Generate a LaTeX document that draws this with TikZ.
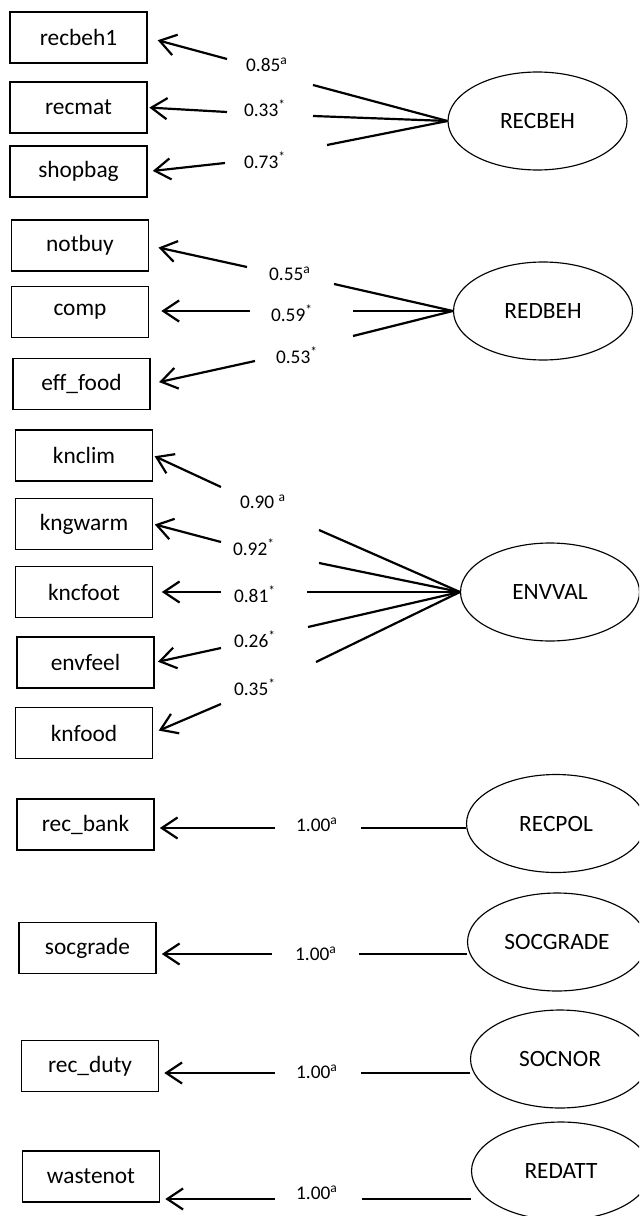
\documentclass[tikz,border=0pt]{standalone}
\usepackage{fontspec}
\setmainfont{Carlito}
\usetikzlibrary{arrows.meta, shapes.geometric, calc}

\begin{document}
\begin{tikzpicture}[
    x=0.02cm, y=-0.02cm,
    ind/.style={rectangle, draw, line width=0.65pt, minimum width=2.74cm, minimum height=1.02cm, inner sep=0pt, font=\fontsize{13.3}{16}\selectfont},
    lat/.style={ellipse, draw, line width=0.65pt, minimum width=3.58cm, minimum height=1.96cm, inner sep=0pt, font=\fontsize{13.3}{16}\selectfont},
    ld/.style={inner sep=0pt, font=\fontsize{11}{13}\selectfont},
    ln/.style={line width=1.25pt},
    arr/.style={ln, -{Straight Barb[length=9pt, width=12pt]}, shorten >=1pt}
]
\clip (0,0) rectangle (639,1216);

% RECBEH
\node[ind] (recbeh1) at (78.5,37.5) {recbeh1};
\node[ind] (recmat) at (78.5,107.5) {recmat};
\node[ind] (shopbag) at (78.5,171.5) {shopbag};
\node[lat] (RECBEH) at (537.5,121) {RECBEH};
\node[ld] (l1) at (267,65) {0.85\textsuperscript{a}};
\node[ld] (l2) at (265,108) {0.33\textsuperscript{*}};
\node[ld] (l3) at (265,160) {0.73\textsuperscript{*}};
\coordinate (s1) at (313,85);  \coordinate (e1) at (227,59);
\coordinate (s2) at (313,116); \coordinate (e2) at (227,112);
\coordinate (s3) at (327,145); \coordinate (e3) at (225,163);
\draw[ln] (RECBEH.west) -- (s1);
\draw[ln] (RECBEH.west) -- (s2);
\draw[ln] (RECBEH.west) -- (s3);
\draw[arr, shorten >=6pt] (e1) -- (recbeh1.east);
\draw[arr] (e2) -- (recmat.east);
\draw[arr, shorten >=3pt] (e3) -- (shopbag.east);

% REDBEH
\node[ind] (notbuy) at (80,245.5) {notbuy};
\node[ind] (comp) at (80,312) {comp};
\node[ind] (efffood) at (81.5,384) {eff\_food};
\node[lat] (REDBEH) at (543,311) {REDBEH};
\node[ld] (l4) at (290,274) {0.55\textsuperscript{a}};
\node[ld] (l5) at (292,313) {0.59\textsuperscript{*}};
\node[ld] (l6) at (297,355) {0.53\textsuperscript{*}};
\coordinate (s4) at (334,284); \coordinate (e4) at (247,267);
\coordinate (s5) at (353,311); \coordinate (e5) at (250,311);
\coordinate (s6) at (353,336); \coordinate (e6) at (255,361);
\draw[ln] (REDBEH.west) -- (s4);
\draw[ln] (REDBEH.west) -- (s5);
\draw[ln] (REDBEH.west) -- (s6);
\draw[arr, shorten >=5.5pt] (e4) -- (notbuy.east);
\draw[arr, shorten >=7pt] (e5) -- (e5 -| comp.east);
\draw[arr, shorten >=5pt] (e6) -- (efffood.east);

% ENVVAL
\node[ind] (knclim) at (84,455.5) {knclim};
\node[ind] (kngwarm) at (84,524) {kngwarm};
\node[ind] (kncfoot) at (84,592) {kncfoot};
\node[ind] (envfeel) at (85.5,662.5) {envfeel};
\node[ind] (knfood) at (84,733) {knfood};
\node[lat] (ENVVAL) at (550,592) {ENVVAL};
\node[ld] (l7) at (263,502) {0.90 \textsuperscript{a}};
\node[ld] (l8) at (254,547) {0.92\textsuperscript{*}};
\node[ld] (l9) at (255,594) {0.81\textsuperscript{*}};
\node[ld] (l10) at (255,639) {0.26\textsuperscript{*}};
\node[ld] (l11) at (255,687) {0.35\textsuperscript{*}};
\coordinate (s7) at (319,530);  \coordinate (e7) at (221,487);
\coordinate (s8) at (319,563);  \coordinate (e8) at (221,542);
\coordinate (s9) at (307,592);  \coordinate (e9) at (221,592);
\coordinate (s10) at (308,627); \coordinate (e10) at (221,648);
\coordinate (s11) at (316,662); \coordinate (e11) at (221,704);
\draw[ln] (ENVVAL.west) -- (s7);
\draw[ln] (ENVVAL.west) -- (s8);
\draw[ln] (ENVVAL.west) -- (s9);
\draw[ln] (ENVVAL.west) -- (s10);
\draw[ln] (ENVVAL.west) -- (s11);
\draw[arr] (e7) -- (knclim.east);
\draw[arr] (e8) -- (kngwarm.east);
\draw[arr, shorten >=5pt] (e9) -- (kncfoot.east);
\draw[arr, shorten >=2pt] (e10) -- (envfeel.east);
\draw[arr, shorten >=3.5pt] (e11) -- (knfood.east);

% single-indicator factors
\node[ind] (recbank) at (85.5,824.5) {rec\_bank};
\node[ind] (socgrade) at (87.5,948) {socgrade};
\node[ind] (recduty) at (90,1066) {rec\_duty};
\node[ind] (wastenot) at (91,1176.5) {wastenot};
\node[lat] (RECPOL) at (556,823.5) {RECPOL};
\node[lat] (SOCGRADE) at (557,942) {SOCGRADE};
\node[lat] (SOCNOR) at (560,1059) {SOCNOR};
\node[lat] (REDATT) at (561,1171) {REDATT};
\node[ld] (l12) at (317,825) {1.00\textsuperscript{a}};
\node[ld] (l13) at (316,954) {1.00\textsuperscript{a}};
\node[ld] (l14) at (317,1072) {1.00\textsuperscript{a}};
\node[ld] (l15) at (317,1193) {1.00\textsuperscript{a}};
\coordinate (s12) at (361,828);  \coordinate (e12) at (275,828);
\coordinate (s13) at (359,954);  \coordinate (e13) at (272,954);
\coordinate (s14) at (361,1073); \coordinate (e14) at (275,1073);
\coordinate (s15) at (362,1199); \coordinate (e15) at (275,1199);
\draw[ln] (RECPOL.west |- s12) -- (s12);
\draw[ln] (SOCGRADE.west |- s13) -- (s13);
\draw[ln] (SOCNOR.west |- s14) -- (s14);
\draw[ln] (REDATT.west |- s15) -- (s15);
\draw[arr, shorten >=3pt] (e12) -- (e12 -| recbank.east);
\draw[arr, shorten >=3pt] (e13) -- (e13 -| socgrade.east);
\draw[arr, shorten >=3pt] (e14) -- (e14 -| recduty.east);
\draw[arr, shorten >=3pt] (e15) -- (e15 -| wastenot.east);

\end{tikzpicture}
\end{document}
